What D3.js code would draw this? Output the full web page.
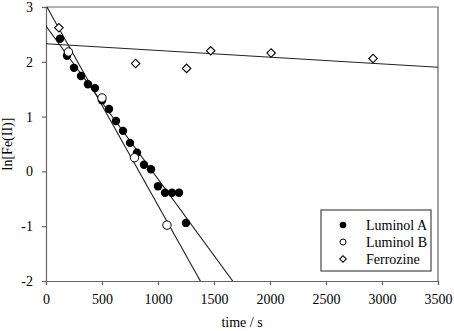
<!DOCTYPE html>
<html>
<head>
<meta charset="utf-8">
<script src="https://cdn.jsdelivr.net/npm/d3@7"></script>
<style>
  body { margin: 0; background: #fff; }
</style>
</head>
<body>
<div id="chart-area"></div>
<script>
// data
const lumATime = [125, 187.5, 250, 312.5, 375, 437.5, 500, 562.5, 625, 687.5, 750, 812.5, 875, 937.5, 1000, 1062.5, 1125, 1187.5, 1250]
const lumAVal = [2.42, 2.11, 1.89, 1.74, 1.59, 1.52, 1.30, 1.14, 0.92, 0.74, 0.52, 0.34, 0.12, 0.04, -0.27, -0.39, -0.39, -0.39, -0.94]
const lumBTime = [200, 500, 790, 1080]
const lumBVal = [2.18, 1.34, 0.25, -0.98]
const ferroTime = [115, 800, 1255, 1470, 2010, 2920]
const ferroVal = [2.62, 1.97, 1.88, 2.20, 2.16, 2.06]

// fitted lines: [intercept, slope]
const lumAFit = [2.65, -0.00279]
const lumBFit = [3.03, -0.00365]
const ferroFit = [2.33, -0.000123]

const xTicks = [0, 500, 1000, 1500, 2000, 2500, 3000, 3500]
const yTicks = [-2, -1, 0, 1, 2, 3]
const legendNames = ["Luminol A", "Luminol B", "Ferrozine"]

const FONT = "Liberation Serif"

const margin = { left: 46, right: 16, top: 7, bottom: 50 }
const width = 454 - margin.left - margin.right
const height = 331 - margin.top - margin.bottom

const svg = d3.select("#chart-area").append("svg")
  .attr("width", 454)
  .attr("height", 331)
  .attr("font-family", FONT)

const g = svg.append("g")
  .attr("transform", `translate(${margin.left}, ${margin.top})`)

const x = d3.scaleLinear().domain([0, 3500]).range([0, width])
const y = d3.scaleLinear().domain([-2, 3]).range([height, 0])

const clip = g.append("clipPath").attr("id", "plot-clip")
clip.append("rect").attr("width", width).attr("height", height)

// frame (top and right)
g.append("path")
  .attr("d", `M0,0H${width}V${height}`)
  .attr("fill", "none")
  .attr("stroke", "#666")
  .attr("stroke-width", 1.2)

const xAxis = g.append("g")
  .attr("transform", `translate(0, ${height})`)
  .call(d3.axisBottom(x).tickValues(xTicks).tickSize(4).tickPadding(9).tickFormat(d3.format("d")))
const yAxis = g.append("g")
  .call(d3.axisLeft(y).tickValues(yTicks).tickSize(4).tickPadding(9).tickFormat(d => d))

;[xAxis, yAxis].forEach(a => {
  a.attr("font-family", FONT).attr("font-size", 14)
  a.select(".domain").attr("stroke", "#666").attr("stroke-width", 1.2)
  a.selectAll(".tick line").attr("stroke", "#666").attr("stroke-width", 1.2)
  a.selectAll("text").attr("fill", "#000")
})

// fit lines
const lineG = g.append("g").attr("clip-path", "url(#plot-clip)")
;[lumAFit, lumBFit, ferroFit].forEach(f => {
  lineG.append("line")
    .attr("x1", x(0)).attr("y1", y(f[0]))
    .attr("x2", x(3500)).attr("y2", y(f[0] + f[1] * 3500))
    .attr("stroke", "#222")
    .attr("stroke-width", 1.1)
})

// Ferrozine diamonds
g.selectAll(".ferro").data(ferroTime)
  .enter().append("path")
  .attr("class", "ferro")
  .attr("transform", (d, i) => `translate(${x(d)}, ${y(ferroVal[i])}) rotate(45)`)
  .attr("d", d3.symbol().type(d3.symbolSquare).size(36)())
  .attr("fill", "#fff")
  .attr("stroke", "#000")
  .attr("stroke-width", 1.1)

// Luminol A filled circles
g.selectAll(".luma").data(lumATime)
  .enter().append("circle")
  .attr("class", "luma")
  .attr("cx", d => x(d))
  .attr("cy", (d, i) => y(lumAVal[i]))
  .attr("r", 4.2)
  .attr("fill", "#000")

// Luminol B open circles
g.selectAll(".lumb").data(lumBTime)
  .enter().append("circle")
  .attr("class", "lumb")
  .attr("cx", d => x(d))
  .attr("cy", (d, i) => y(lumBVal[i]))
  .attr("r", 4.2)
  .attr("fill", "#fff")
  .attr("stroke", "#000")
  .attr("stroke-width", 1)

// axis titles
g.append("text")
  .attr("x", width / 2)
  .attr("y", height + 46)
  .attr("font-family", FONT)
  .attr("font-size", 14)
  .attr("text-anchor", "middle")
  .text("time / s")

g.append("text")
  .attr("x", -(height / 2))
  .attr("y", -34)
  .attr("font-family", FONT)
  .attr("font-size", 14)
  .attr("text-anchor", "middle")
  .attr("transform", "rotate(-90)")
  .text("ln[Fe(II)]")

// legend
const legend = g.append("g")
  .attr("transform", `translate(${321 - margin.left}, ${210 - margin.top})`)

legend.append("rect")
  .attr("width", 110)
  .attr("height", 61)
  .attr("fill", "#fff")
  .attr("stroke", "#222")
  .attr("stroke-width", 1)

legendNames.forEach((name, i) => {
  const row = legend.append("g").attr("transform", `translate(0, ${15 + i * 17})`)
  if (i === 0) {
    row.append("circle").attr("cx", 22).attr("cy", 0).attr("r", 3.3).attr("fill", "#000")
  } else if (i === 1) {
    row.append("circle").attr("cx", 22).attr("cy", 0).attr("r", 3).attr("fill", "#fff")
      .attr("stroke", "#000").attr("stroke-width", 1)
  } else {
    row.append("path")
      .attr("transform", "translate(22, 0) rotate(45)")
      .attr("d", d3.symbol().type(d3.symbolSquare).size(22)())
      .attr("fill", "#fff").attr("stroke", "#000").attr("stroke-width", 1)
  }
  row.append("text")
    .attr("x", 45)
    .attr("y", 5)
    .attr("font-family", FONT)
    .attr("font-size", 14)
    .text(name)
})
</script>
</body>
</html>
